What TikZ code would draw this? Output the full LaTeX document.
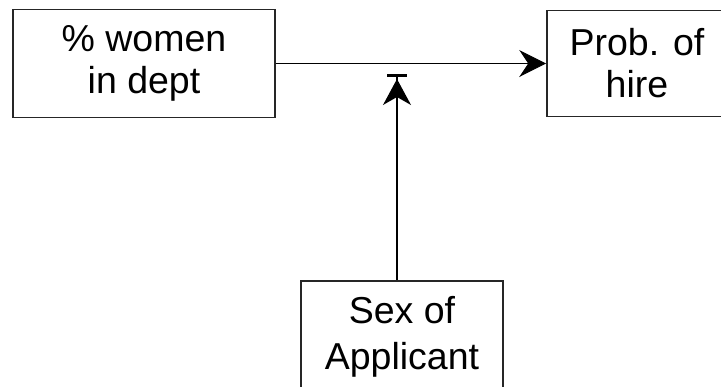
\documentclass[tikz,border=0pt]{standalone}
\usepackage{fontspec}
\setmainfont{Liberation Sans}
\usetikzlibrary{arrows.meta}
\begin{document}
\begin{tikzpicture}[x=1pt,y=-1pt,
  box/.style={draw=black!85, line width=1.6pt, rectangle, align=center, inner sep=0pt,
    font=\fontsize{37.5}{42}\selectfont},
  conn/.style={line width=1.1pt, black}]
\useasboundingbox (0,0) rectangle (721,386);
\node[box, minimum width=262pt, minimum height=108pt] (women) at (144,63.5) {\% women\\in dept};
\node[box, minimum width=180pt, minimum height=106pt] (prob) at (637,63.5) {Prob. of\\hire};
\node[box, minimum width=202pt, minimum height=112pt,
  font=\fontsize{37.5}{46}\selectfont] (sex) at (402,337) {Sex of\\Applicant};
\coordinate (bar) at (397,74);
\draw[conn, -{Stealth[length=27pt,width=27pt,inset=9pt]}] (women) -- (prob);
\draw[conn, -{Stealth[length=26pt,width=28pt,inset=8pt,sep=2pt] Bar[width=20pt,line width=3pt]}] (sex.north -| bar) -- (bar);
\end{tikzpicture}
\end{document}
